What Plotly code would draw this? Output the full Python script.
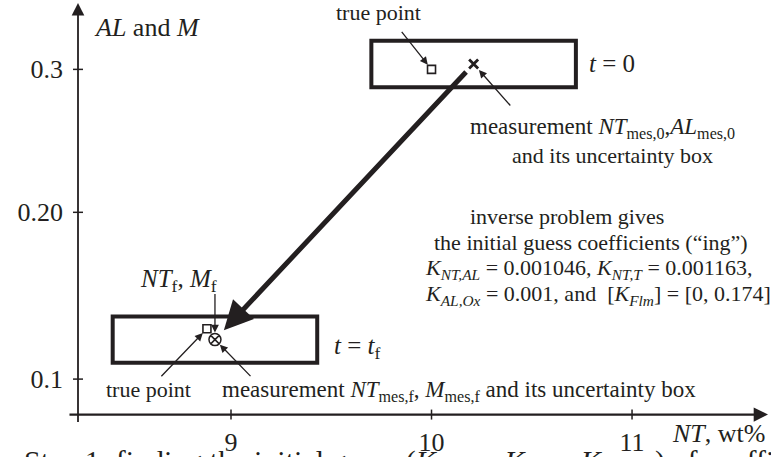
import plotly.graph_objects as go

# ---------------- data ----------------
nt_ticks = [9, 10, 11]
nt_tick_text = ["9", "10", "11"]
# the "0.20" tick is drawn slightly above mid-scale on this schematic axis
alm_ticks = [0.1, 0.2077, 0.3]
alm_tick_text = ["0.1", "0.20", "0.3"]

# measured states (centres of the uncertainty boxes): t = 0 and t = t_f
meas_nt = [10.21, 8.92]
meas_alm = [0.3035, 0.1255]
# true states: t = 0 and t = t_f
true_nt = [10.0, 8.88]
true_alm = [0.300, 0.1325]
# half-sizes of the uncertainty boxes
unc_nt = 0.51
unc_alm = 0.015

# ---------------- frame ----------------
W, H = 771, 457
x_range = [7.848, 11.693]
y_range = [0.0497, 0.3448]
axis_x = 8.237        # NT where the vertical axis is drawn
axis_y = 0.0771       # AL/M where the horizontal axis is drawn
x_axis_start, x_axis_end = 8.187, 11.678
y_axis_start, y_axis_end = 0.0713, 0.3429

INK = "#231f20"
SERIF = "Liberation Serif"


def px(x):
    return x / W


def py(y):
    return 1 - y / H


fig = go.Figure()

# true points
fig.add_trace(go.Scatter(
    x=true_nt, y=true_alm, mode="markers",
    marker=dict(symbol="square-open", size=8, color=INK, line=dict(width=1.6, color=INK)),
    hoverinfo="skip", showlegend=False))
# measurement at t = 0
fig.add_trace(go.Scatter(
    x=meas_nt[:1], y=meas_alm[:1], mode="markers",
    marker=dict(symbol="x-thin-open", size=9, color=INK, line=dict(width=2.8, color=INK)),
    hoverinfo="skip", showlegend=False))
# measurement at t = t_f
fig.add_trace(go.Scatter(
    x=meas_nt[1:], y=meas_alm[1:], mode="markers",
    marker=dict(symbol="circle-x-open", size=12, color=INK, line=dict(width=1.5, color=INK)),
    hoverinfo="skip", showlegend=False))

shapes = []
# uncertainty boxes
for cx, cy in zip(meas_nt, meas_alm):
    shapes.append(dict(type="rect", xref="x", yref="y",
                       x0=cx - unc_nt, x1=cx + unc_nt, y0=cy - unc_alm, y1=cy + unc_alm,
                       line=dict(color=INK, width=4), fillcolor="rgba(0,0,0,0)"))
# tick marks crossing the axes
for t in nt_ticks:
    shapes.append(dict(type="line", xref="x", yref="y", ysizemode="pixel", yanchor=axis_y,
                       x0=t, x1=t, y0=-5, y1=5, line=dict(color=INK, width=1.5)))
for t in alm_ticks:
    shapes.append(dict(type="line", xref="x", yref="y", xsizemode="pixel", xanchor=axis_x,
                       x0=-5, x1=5, y0=t, y1=t, line=dict(color=INK, width=1.5)))

ann = []
# axes with arrow heads
ann.append(dict(x=x_axis_end, y=axis_y, ax=x_axis_start, ay=axis_y, xref="x", yref="y",
                axref="x", ayref="y", text="", showarrow=True, arrowhead=2, arrowsize=1.3,
                arrowwidth=2.2, arrowcolor=INK))
ann.append(dict(x=axis_x, y=y_axis_end, ax=axis_x, ay=y_axis_start, xref="x", yref="y",
                axref="x", ayref="y", text="", showarrow=True, arrowhead=2, arrowsize=1.4,
                arrowwidth=1.8, arrowcolor=INK))

# thick arrow: from the t = 0 measurement down to the t = t_f measurement
ann.append(dict(x=meas_nt[1], y=meas_alm[1], ax=meas_nt[0], ay=meas_alm[0],
                xref="x", yref="y", axref="x", ayref="y", text="", showarrow=True,
                arrowhead=2, arrowsize=1.15, arrowwidth=5, arrowcolor=INK,
                standoff=13, startstandoff=9))

# thin pointer arrows (tails given as pixel offsets from the point)
pointers = [
    (true_nt[0], true_alm[0], -31, -39, 6),
    (meas_nt[0], meas_alm[0], 38, 43, 8),
    (meas_nt[1], meas_alm[1], 0, -47, 7),
    (true_nt[1], true_alm[1], -47, 49, 6),
    (meas_nt[1], meas_alm[1], 37, 38, 7),
]
for x, y, dx, dy, so in pointers:
    ann.append(dict(x=x, y=y, xref="x", yref="y", ax=dx, ay=dy, text="", showarrow=True,
                    arrowhead=2, arrowsize=1.2, arrowwidth=1.3, arrowcolor=INK, standoff=so))


def label(text, x, y, size=22, xanchor="left"):
    ann.append(dict(text=text, x=px(x), y=py(y), xref="paper", yref="paper",
                    xanchor=xanchor, yanchor="middle", showarrow=False,
                    font=dict(family=SERIF, size=size, color=INK)))


label("<i>AL</i> and <i>M</i>", 92, 27, size=26)
label("true point", 378, 12, xanchor="center")
label("<i>t</i> = 0", 587, 63, size=25)
label("measurement <i>NT</i><sub>mes,0</sub>,<i>AL</i><sub>mes,0</sub>", 468, 128, size=23)
label("and its uncertainty box", 510, 156)
label("inverse problem gives", 567, 216, xanchor="center")
label("the initial guess coefficients (“ing”)", 432, 243)
label("<i>K</i><sub><i>NT,AL</i></sub> = 0.001046, <i>K</i><sub><i>NT,T</i></sub> = 0.001163,", 423, 269)
label("<i>K</i><sub><i>AL,Ox</i></sub> = 0.001, and  [<i>K</i><sub><i>Flm</i></sub>] = [0, 0.174]", 423, 295)
label("<i>NT</i><sub>f</sub>, <i>M</i><sub>f</sub>", 178, 280, size=25, xanchor="center")
label("<i>t</i> = <i>t</i><sub>f</sub>", 332, 347, size=25)
label("true point", 148, 389, xanchor="center")
label("measurement <i>NT</i><sub>mes,f</sub>, <i>M</i><sub>mes,f</sub> and its uncertainty box", 220, 391, size=23)
label("<i>NT</i>, wt%", 670, 433, size=26)
label("Step 1: finding the initial guess (<i>K</i><sub><i>NT,AL</i></sub>, <i>K</i><sub><i>NT,T</i></sub>, "
      "<i>K</i><sub><i>AL,Ox</i></sub>) of coefficients", 22, 463, size=30)

x_pos = (axis_y - y_range[0]) / (y_range[1] - y_range[0])
y_pos = (axis_x - x_range[0]) / (x_range[1] - x_range[0])

fig.update_layout(
    width=W, height=H, autosize=False,
    margin=dict(l=0, r=0, t=0, b=0),
    paper_bgcolor="white", plot_bgcolor="white",
    shapes=shapes, annotations=ann,
    xaxis=dict(range=x_range, domain=[0, 1], anchor="free", position=x_pos,
               showgrid=False, zeroline=False, showline=False, ticks="",
               tickvals=nt_ticks, ticktext=nt_tick_text, ticklabelstandoff=9,
               tickfont=dict(family=SERIF, size=26, color=INK), fixedrange=True),
    yaxis=dict(range=y_range, domain=[0, 1], anchor="free", position=y_pos,
               showgrid=False, zeroline=False, showline=False, ticks="",
               tickvals=alm_ticks, ticktext=alm_tick_text, ticklabelstandoff=15,
               tickfont=dict(family=SERIF, size=26, color=INK), fixedrange=True),
)

fig.write_html("out.html")
